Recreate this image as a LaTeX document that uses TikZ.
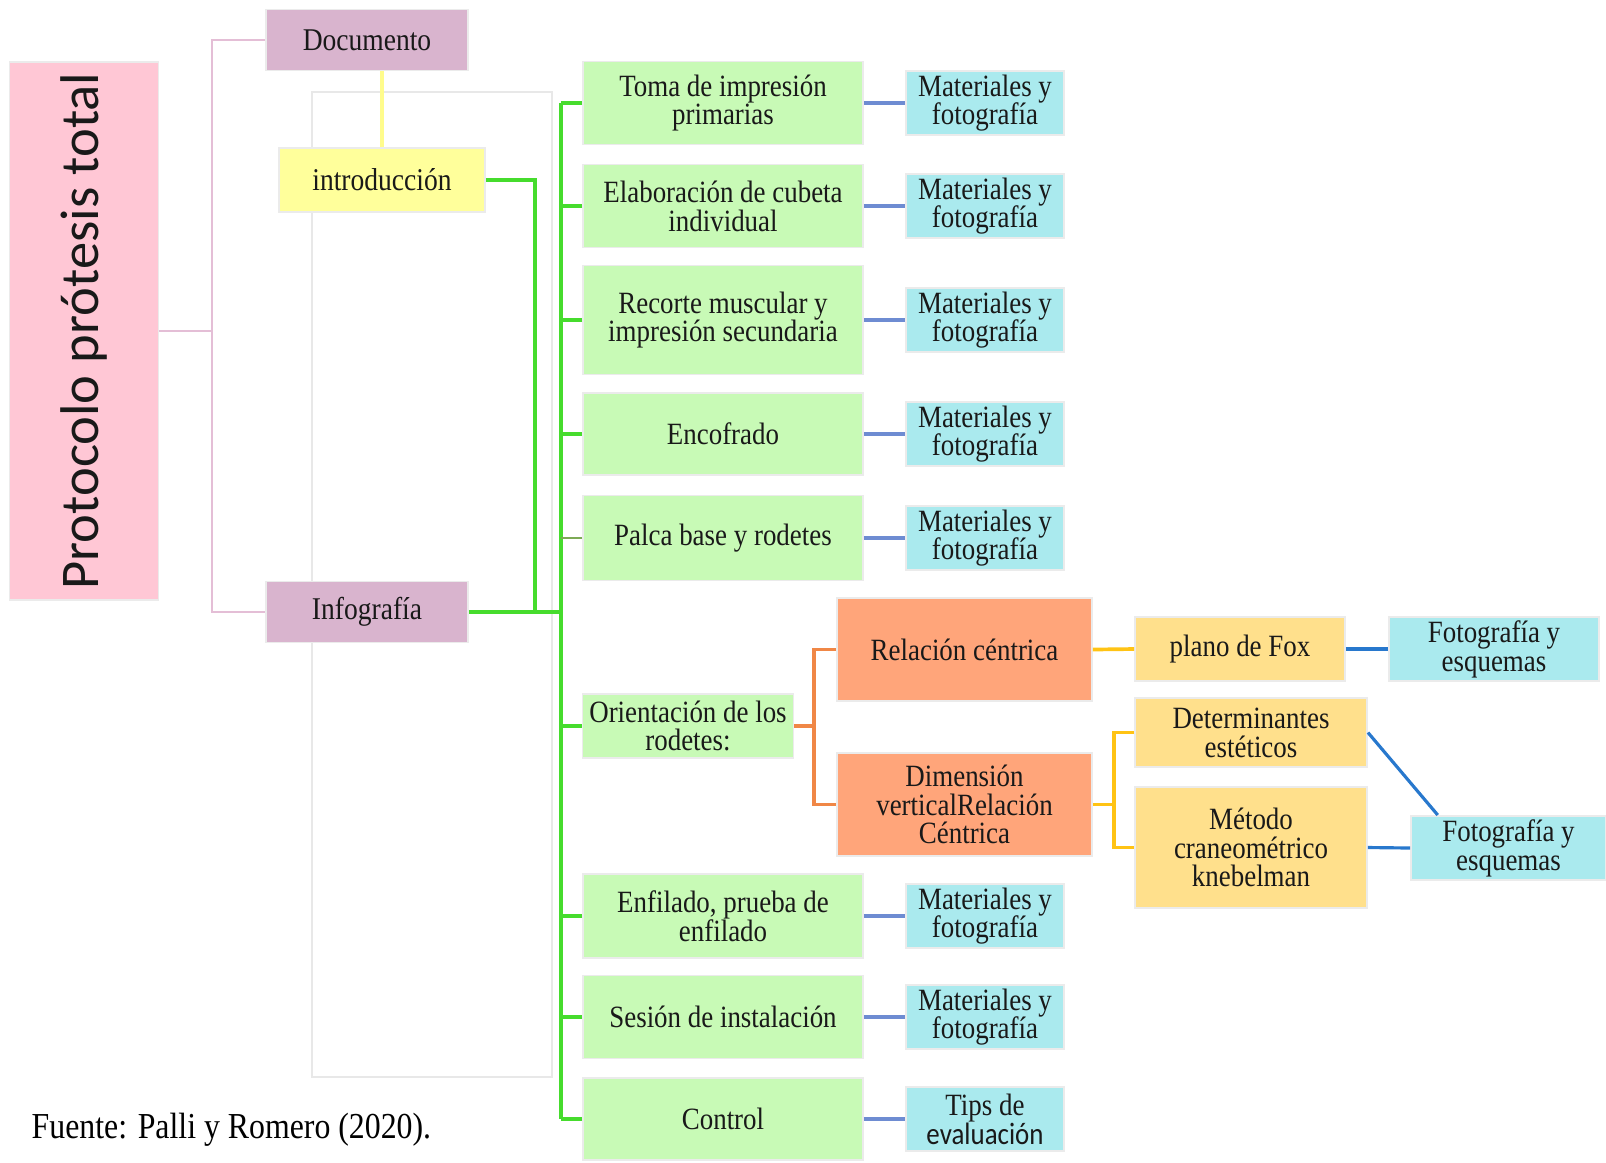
\documentclass[tikz,border=0pt]{standalone}
\usepackage{fontspec}
\setmainfont[FakeStretch=0.87]{Liberation Serif}
\newfontfamily\titlefont{Carlito}
\newfontfamily\calibrifont[FakeStretch=0.87]{Carlito}
\usepackage{xcolor}
\usepackage{tikz}
\definecolor{titlepink}{RGB}{255,199,213}
\definecolor{mauve}{RGB}{217,180,206}
\definecolor{introyellow}{RGB}{255,255,155}
\definecolor{stepgreen}{RGB}{200,250,182}
\definecolor{matcyan}{RGB}{170,234,238}
\definecolor{rcorange}{RGB}{255,165,122}
\definecolor{subyellow}{RGB}{255,224,140}
\definecolor{linepink}{RGB}{228,190,214}
\definecolor{lineyellow}{RGB}{255,252,140}
\definecolor{linegreen}{RGB}{70,220,45}
\definecolor{lineolive}{RGB}{125,170,85}
\definecolor{lineblue}{RGB}{110,140,210}
\definecolor{deepblue}{RGB}{40,120,205}
\definecolor{lineorange}{RGB}{240,135,70}
\definecolor{linegold}{RGB}{255,195,20}

\begin{document}
\begin{tikzpicture}[
  x=0.01cm,y=-0.01cm,
  box/.style={rectangle,draw=black!8,line width=0.5pt,inner sep=1pt,align=center,text=black!90,font=\fontsize{8.8}{8.2}\selectfont},
  titlebox/.style={box,fill=titlepink,rotate=90,minimum width=5.37cm,minimum height=1.49cm,font=\titlefont\fontsize{15.5}{18}\selectfont},
  partbox/.style={box,fill=mauve,minimum width=2.02cm,minimum height=0.61cm,font=\fontsize{9}{9}\selectfont},
  introbox/.style={box,fill=introyellow,minimum width=2.06cm,minimum height=0.64cm,font=\fontsize{9}{9}\selectfont},
  stepbox/.style={box,fill=stepgreen,minimum width=2.8cm},
  matbox/.style={box,fill=matcyan,minimum width=1.58cm,minimum height=0.645cm},
  rcbox/.style={box,fill=rcorange,minimum width=2.55cm,minimum height=1.03cm},
  subbox/.style={box,fill=subyellow,minimum width=2.32cm},
  fotobox/.style={box,fill=matcyan,minimum width=2.1cm,minimum height=0.64cm},
  frame/.style={draw=black!9,line width=0.4pt},
  pinklink/.style={draw=linepink,line width=0.7pt},
  yellowlink/.style={draw=lineyellow,line width=1.2pt},
  greenlink/.style={draw=linegreen,line width=1.05pt},
  trunklink/.style={draw=linegreen,line width=1.2pt},
  olivelink/.style={draw=lineolive,line width=0.7pt},
  bluelink/.style={draw=lineblue,line width=0.9pt},
  deeplink/.style={draw=deepblue,line width=0.9pt},
  orangelink/.style={draw=lineorange,line width=1.05pt},
  goldlink/.style={draw=linegold,line width=1.05pt},
]
\useasboundingbox (0,0) rectangle (1606,1162);
\draw[frame] (312,92) rectangle (552,1077);

% left part
\node[titlebox] (title) at (84,331) {Protocolo prótesis total};
\node[partbox] (doc) at (367,40) {Documento};
\node[introbox] (intro) at (382,180) {introducción};
\node[partbox] (info) at (367,612) {Infografía};

\coordinate (pinkjoin) at (212,331);
\draw[pinklink] (title.south) -- (pinkjoin);
\draw[pinklink] (doc.west) -| (pinkjoin) |- (info.west);
\draw[yellowlink] (intro.north) -- (intro.north |- doc.south);

% steps
\foreach \name/\y/\h/\txt in {
  toma/103/0.83/{Toma de impresión\\primarias},
  elab/206/0.83/{Elaboración de cubeta\\individual},
  recorte/320/1.09/{Recorte muscular y\\impresión secundaria},
  encofrado/434/0.82/{Encofrado},
  palca/538/0.85/{Palca base y rodetes},
  enfilado/916/0.84/{Enfilado, prueba de\\enfilado},
  sesion/1017/0.83/{Sesión de instalación}}
{
  \node[stepbox,minimum height=\h cm] (\name) at (723,\y) {\txt};
  \node[matbox] (mat-\name) at (985,\y) {Materiales y\\fotografía};
  \draw[bluelink] (\name) -- (mat-\name);
}
\node[stepbox,minimum width=2.11cm,minimum height=0.64cm] (orient) at (688,726) {Orientación de los\\rodetes:};
\node[stepbox,minimum height=0.82cm] (control) at (723,1119) {Control};
\node[matbox] (tips) at (985,1119) {Tips de\\{\calibrifont evaluación}};
\draw[bluelink] (control) -- (tips);

% green tree
\coordinate (trunktop) at (561,103);
\coordinate (trunkbot) at (561,1119);
\coordinate (introdrop) at (535,612);
\draw[trunklink] (trunktop) -- (trunkbot);
\draw[greenlink] (intro.east) -| (introdrop);
\draw[greenlink] (info.east) -- (info.east -| trunktop);
\foreach \name in {toma,elab,recorte,encofrado,enfilado,sesion,orient,control}
  \draw[greenlink] (\name.west) -- (\name.west -| trunktop);
\draw[olivelink] (palca.west) -- (palca.west -| trunktop);

% orientation branch
\node[rcbox] (rc) at (964.5,649.5) {Relación céntrica};
\node[rcbox] (dv) at (964.5,804.5) {Dimensión\\verticalRelación\\Céntrica};
\node[subbox,minimum width=2.1cm,minimum height=0.64cm] (fox) at (1240,649) {plano de Fox};
\node[fotobox] (foto1) at (1494,649) {Fotografía y\\esquemas};
\node[subbox,minimum height=0.69cm] (det) at (1251,732.5) {Determinantes\\estéticos};
\node[subbox,minimum height=1.21cm] (met) at (1251,847.5) {Método\\craneométrico\\knebelman};
\node[fotobox,minimum width=1.95cm] (foto2) at (1508.5,848) {Fotografía y\\esquemas};

\coordinate (orjoin) at (814,726);
\draw[orangelink] (orient.east) -- (orjoin);
\draw[orangelink] (rc.west) -| (orjoin) |- (dv.west);
\coordinate (goldjoin) at (1114,804.5);
\draw[goldlink] (dv.east) -- (goldjoin);
\draw[goldlink] (det.west) -| (goldjoin) |- (met.west);
\draw[goldlink] (rc.east) -- (fox.west);
\draw[deeplink] (fox.east) -- (foto1.west);
\draw[deeplink] (met.east) -- (foto2.west);
\draw[deeplink] (det.east) -- (foto2.155);

\node[anchor=west,inner sep=0pt,font=\fontsize{10.4}{12}\selectfont] (fuente) at (31,1130) {Fuente: Palli y Romero (2020).};
\end{tikzpicture}
\end{document}
